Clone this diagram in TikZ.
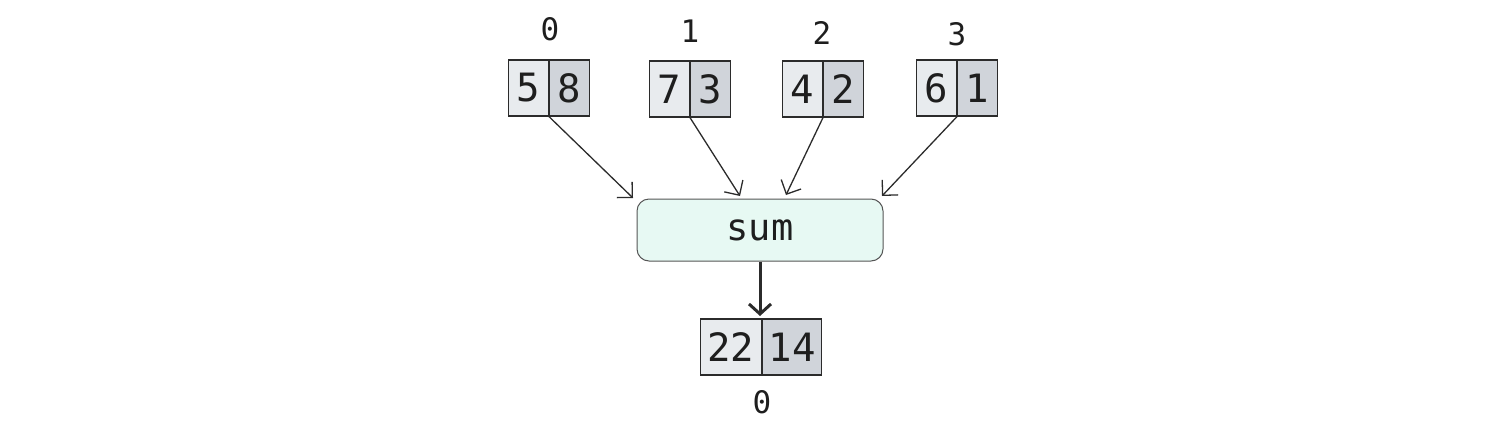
\documentclass[tikz,border=0pt]{standalone}
\usepackage{fontspec}
\setmonofont{DejaVu Sans Mono}
\usetikzlibrary{arrows.meta}
\definecolor{cellA}{HTML}{E8EBEE}
\definecolor{cellB}{HTML}{D0D4DA}
\definecolor{edgecol}{HTML}{2B2B2B}
\definecolor{sumfill}{HTML}{E7F9F3}
\definecolor{sumedge}{HTML}{555555}
\definecolor{txt}{HTML}{1E1E1E}
\tikzset{
  cellbase/.style={draw=edgecol, line width=1.2pt, minimum height=56pt, inner sep=0pt, text=txt, font=\ttfamily\fontsize{39}{39}\selectfont},
  cellL/.style={cellbase, fill=cellA, minimum width=40pt, anchor=east},
  cellR/.style={cellbase, fill=cellB, minimum width=40pt, anchor=west},
  bigL/.style={cellbase, fill=cellA, minimum width=61pt, anchor=east},
  bigR/.style={cellbase, fill=cellB, minimum width=59pt, anchor=west},
  idx/.style={text=txt, font=\ttfamily\fontsize{31}{31}\selectfont, inner sep=0pt},
  sumbox/.style={draw=sumedge, line width=1pt, fill=sumfill, rounded corners=12pt, minimum width=246pt, minimum height=62pt, text=txt, font=\ttfamily\fontsize{37}{37}\selectfont},
  thin arrow/.style={draw=edgecol, line width=1.3pt, -{Straight Barb[length=11pt,width=22pt,line width=1.3pt]}},
  thick arrow/.style={draw=edgecol, line width=3pt, -{Straight Barb[length=10pt,width=22pt,line width=3pt]}}
}
\begin{document}
\begin{tikzpicture}[x=1pt,y=-1pt]
\useasboundingbox (0,0) rectangle (1507,421);
% top arrays
\node[cellL] (c0l) at (549,88) {5};
\node[cellR] (c0r) at (549,88) {8};
\node[cellL] (c1l) at (690,89) {7};
\node[cellR] (c1r) at (690,89) {3};
\node[cellL] (c2l) at (823,89) {4};
\node[cellR] (c2r) at (823,89) {2};
\node[cellL] (c3l) at (957,88) {6};
\node[cellR] (c3r) at (957,88) {1};
% indices
\node[idx] (i0) at (550,29) {0};
\node[idx] (i1) at (690,31) {1};
\node[idx] (i2) at (822,33) {2};
\node[idx] (i3) at (957,34) {3};
% sum
\node[sumbox] (sum) at (760,230) {sum};
\coordinate (e0) at (633,198);
\coordinate (e1) at (740,196);
\coordinate (e2) at (786,195);
\coordinate (e3) at (882,196);
\draw[thin arrow] (c0l.south east) -- (e0);
\draw[thin arrow] (c1l.south east) -- (e1);
\draw[thin arrow] (c2l.south east) -- (e2);
\draw[thin arrow] (c3l.south east) -- (e3);
% result
\node[bigL] (rl) at (762,347) {22};
\node[bigR] (rr) at (762,347) {14};
\node[idx] (ri) at (762,402) {0};
\coordinate (rt) at (760,316);
\draw[thick arrow] (sum.south) -- (rt);
\end{tikzpicture}
\end{document}
